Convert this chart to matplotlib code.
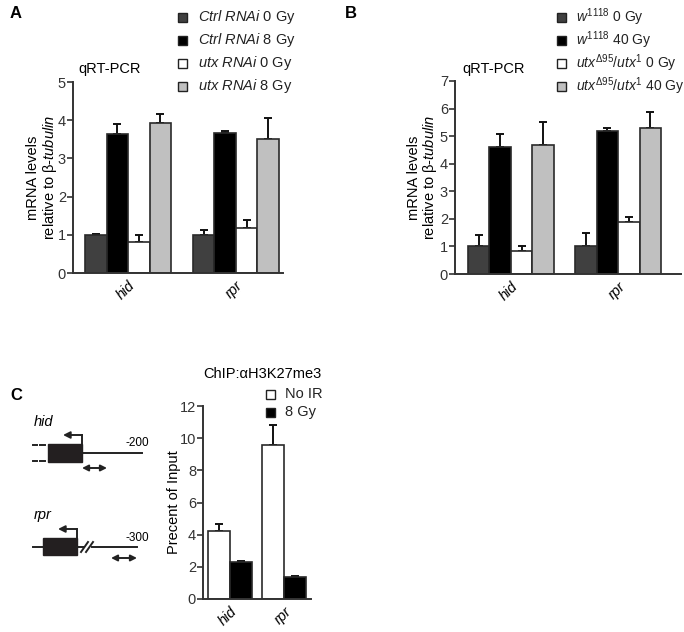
import numpy as np
import matplotlib
matplotlib.use("Agg")
import matplotlib.pyplot as plt
from matplotlib.patches import Rectangle, FancyArrowPatch

plt.rcParams["font.family"] = ["Liberation Sans", "DejaVu Sans"]
plt.rcParams["mathtext.fontset"] = "custom"
plt.rcParams["mathtext.rm"] = "Liberation Sans"
plt.rcParams["mathtext.it"] = "Liberation Sans:italic"
plt.rcParams["mathtext.bf"] = "Liberation Sans:bold"

genes = ["hid", "rpr"]

# panel A
a_labels = [r"$\mathit{Ctrl\ RNAi}$ 0 Gy", r"$\mathit{Ctrl\ RNAi}$ 8 Gy",
            r"$\mathit{utx\ RNAi}$ 0 Gy", r"$\mathit{utx\ RNAi}$ 8 Gy"]
a_vals = [[1.00, 1.00], [3.63, 3.67], [0.81, 1.19], [3.93, 3.50]]
a_err = [[0.02, 0.13], [0.26, 0.04], [0.19, 0.21], [0.24, 0.57]]

# panel B
b_labels = [r"$\mathit{w}^{\mathit{1118}}$ 0 Gy",
            r"$\mathit{w}^{\mathit{1118}}$ 40 Gy",
            r"$\mathit{utx}^{\mathit{Δ95}}\mathit{/utx}^{\mathit{1}}$ 0 Gy",
            r"$\mathit{utx}^{\mathit{Δ95}}\mathit{/utx}^{\mathit{1}}$ 40 Gy"]
b_vals = [[1.00, 1.00], [4.61, 5.17], [0.85, 1.89], [4.69, 5.29]]
b_err = [[0.43, 0.49], [0.46, 0.12], [0.16, 0.17], [0.82, 0.57]]

# panel C
c_labels = ["No IR", "8 Gy"]
c_vals = [[4.25, 9.55], [2.32, 1.39]]
c_err = [[0.40, 1.25], [0.06, 0.05]]

four_colors = ["#404040", "#000000", "#ffffff", "#c0c0c0"]
two_colors = ["#ffffff", "#000000"]

FS = 10
W, H = 684, 632
fig = plt.figure(figsize=(W / 100, H / 100), dpi=100)


def px_axes(x0, y0, x1, y1):
    return fig.add_axes([x0 / W, 1 - y1 / H, (x1 - x0) / W, (y1 - y0) / H])


def style(ax):
    for s in ["top", "right"]:
        ax.spines[s].set_visible(False)
    for s in ["left", "bottom"]:
        ax.spines[s].set_linewidth(1.4)
        ax.spines[s].set_color("#333333")
    ax.tick_params(axis="y", direction="out", length=4, width=1.2,
                   labelsize=FS + 0.5, colors="#333333", pad=1)
    ax.tick_params(axis="x", length=0, labelsize=FS + 0.5, pad=4)


def grouped(ax, vals, errs, colors, gap):
    n = len(vals)
    for i, (v, e) in enumerate(zip(vals, errs)):
        x = np.arange(len(genes)) * gap + i
        ax.bar(x, v, width=1.0, color=colors[i], edgecolor="#2a2a2a",
               linewidth=1.2, zorder=2)
        ax.errorbar(x, v, yerr=[np.zeros(len(e)), e], fmt="none",
                    ecolor="#111111", elinewidth=1.4, capsize=3, capthick=1.4,
                    zorder=1)
    centers = np.arange(len(genes)) * gap + (n - 1) / 2
    ax.set_xticks(centers)
    ax.set_xticklabels(genes, rotation=45, ha="right",
                       rotation_mode="anchor", style="italic")


def legend(labels, colors, x, y0, dy, fs=FS):
    for i, (lab, c) in enumerate(zip(labels, colors)):
        y = y0 + i * dy
        fig.patches.append(Rectangle(((x - 4.5) / W, 1 - (y + 4.5) / H),
                                     9 / W, 9 / H, transform=fig.transFigure,
                                     facecolor=c, edgecolor="#222222",
                                     linewidth=1.0))
        fig.text((x + 15) / W, 1 - y / H, lab, fontsize=fs, va="center",
                 ha="left", color="#222222")


ylab = "mRNA levels\nrelative to β-$\\mathit{tubulin}$"

# A
axA = px_axes(73, 82, 283, 273)
grouped(axA, a_vals, a_err, four_colors, 5)
axA.set_xlim(-1.06, 8.69)
axA.set_ylim(0, 5)
axA.set_yticks(range(0, 6))
style(axA)
axA.set_ylabel(ylab, fontsize=FS + 0.5, linespacing=1.05)
axA.yaxis.set_label_coords(-0.066, 0.5)
fig.text(78 / W, 1 - 69 / H, "qRT-PCR", fontsize=FS + 0.5, va="center")
legend(a_labels, four_colors, 183, 17, 23, FS + 0.5)
fig.text(10 / W, 1 - 13 / H, "A", fontsize=12, weight="bold", va="center")

# B
axB = px_axes(455, 81, 681, 274)
grouped(axB, b_vals, b_err, four_colors, 5)
axB.set_xlim(-1.1, 9.43)
axB.set_ylim(0, 7)
axB.set_yticks(range(0, 8))
style(axB)
axB.set_ylabel(ylab, fontsize=FS + 0.5, linespacing=1.05)
axB.yaxis.set_label_coords(-0.07, 0.5)
fig.text(462 / W, 1 - 69 / H, "qRT-PCR", fontsize=FS + 0.5, va="center")
legend(b_labels, four_colors, 561, 17, 23, FS)
fig.text(345 / W, 1 - 13 / H, "B", fontsize=12, weight="bold", va="center")

# C
axC = px_axes(203, 406, 311, 599)
grouped(axC, c_vals, c_err, two_colors, 2.5)
axC.set_xlim(-0.73, 4.23)
axC.set_ylim(0, 12)
axC.set_yticks(range(0, 13, 2))
style(axC)
axC.set_ylabel("Precent of Input", fontsize=FS + 0.5)
axC.yaxis.set_label_coords(-0.205, 0.5)
fig.text(262 / W, 1 - 374 / H, "ChIP:αH3K27me3", fontsize=FS + 0.5,
         va="center", ha="center")
legend(c_labels, two_colors, 270, 394, 18, FS + 0.5)
fig.text(10 / W, 1 - 395 / H, "C", fontsize=12, weight="bold", va="center")

# gene diagrams, drawn in pixel space
dg = fig.add_axes([0, 0, 1, 1], zorder=-1)
dg.set_xlim(0, W)
dg.set_ylim(H, 0)
dg.axis("off")
lk = dict(color="#222222", lw=1.4)

dg.text(34, 422, "hid", fontsize=FS + 0.5, style="italic", va="center")
dg.add_patch(Rectangle((48, 444), 34, 18, facecolor="#231f20",
                       edgecolor="#231f20"))
dg.plot([33, 37], [445, 445], **lk)
dg.plot([40, 45], [445, 445], **lk)
dg.plot([33, 37], [461, 461], **lk)
dg.plot([40, 45], [461, 461], **lk)
dg.plot([82, 142], [453, 453], **lk)
dg.plot([82, 82], [453, 435], **lk)
dg.add_patch(FancyArrowPatch((82, 435), (63, 435), arrowstyle="-|>",
                             mutation_scale=10, shrinkA=0, shrinkB=0, **lk))
dg.add_patch(FancyArrowPatch((82, 468), (107, 468), arrowstyle="<|-|>",
                             mutation_scale=9, shrinkA=0, shrinkB=0, **lk))
dg.text(126, 449, "-200", fontsize=8.5, va="bottom")

dg.text(34, 515, "rpr", fontsize=FS + 0.5, style="italic", va="center")
dg.add_patch(Rectangle((43, 538), 34, 17, facecolor="#231f20",
                       edgecolor="#231f20"))
dg.plot([33, 43], [547, 547], **lk)
dg.plot([77, 84], [547, 547], **lk)
dg.plot([92, 137], [547, 547], **lk)
dg.plot([81, 88], [552, 542], **lk)
dg.plot([86, 93], [552, 542], **lk)
dg.plot([77, 77], [538, 529], **lk)
dg.add_patch(FancyArrowPatch((77, 529), (58, 529), arrowstyle="-|>",
                             mutation_scale=10, shrinkA=0, shrinkB=0, **lk))
dg.add_patch(FancyArrowPatch((111, 558), (137, 558), arrowstyle="<|-|>",
                             mutation_scale=9, shrinkA=0, shrinkB=0, **lk))
dg.text(125, 544, "-300", fontsize=8.5, va="bottom")

fig.savefig("out.png", dpi=100)
